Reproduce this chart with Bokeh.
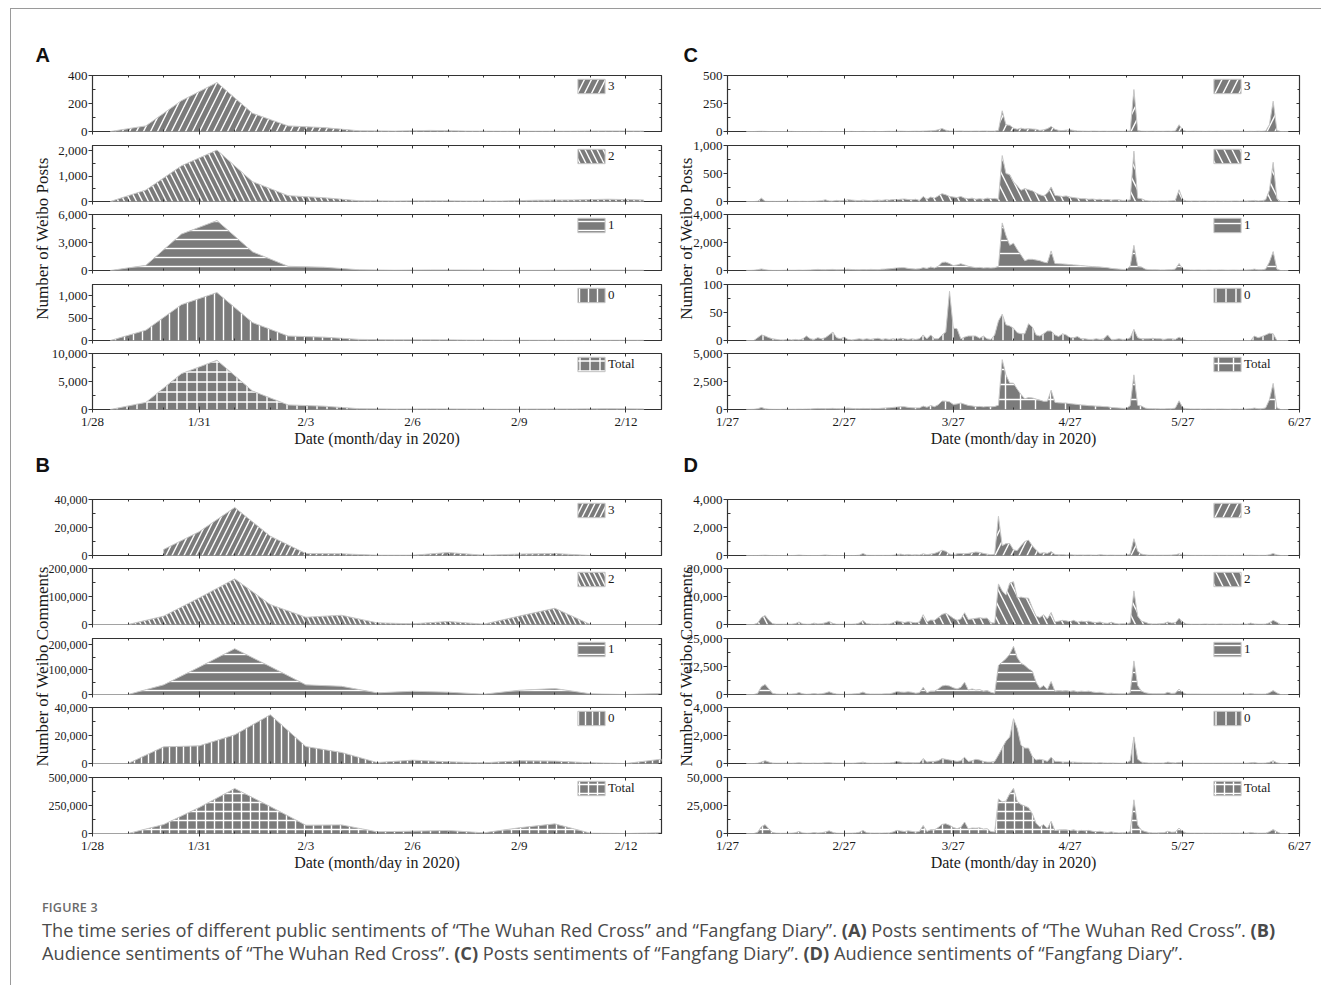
import numpy as np
import pandas as pd
from bokeh.plotting import figure
from bokeh.models import (Range1d, FixedTicker, LinearAxis, DatetimeAxis, Legend, LegendItem,
                          NumeralTickFormatter, Div, Label)
from bokeh.layouts import column, row
from bokeh.embed import file_html
from bokeh.resources import INLINE

# ---------------- data ----------------
SENTIMENTS = ["3", "2", "1", "0", "Total"]
HATCHES = ["/", "\\", "-", "|", "+"]

# Panel A: posts, "The Wuhan Red Cross" (daily, plotted at mid-day)
A_DAYS = pd.date_range("2020-01-28 12:00", periods=16, freq="D")
A_3 = [0, 40, 220, 350, 130, 40, 28, 5, 3, 8, 3, 2, 2, 2, 4, 3]
A_2 = [0, 450, 1400, 2020, 780, 230, 150, 30, 20, 30, 20, 20, 50, 60, 90, 60]
A_1 = [0, 550, 3900, 5350, 2000, 450, 350, 80, 30, 60, 50, 20, 20, 30, 40, 30]
A_0 = [0, 230, 800, 1070, 400, 100, 75, 25, 15, 15, 10, 5, 5, 5, 5, 5]
A_T = [0, 1270, 6400, 8800, 3300, 820, 600, 140, 70, 110, 80, 50, 80, 100, 140, 100]

# Panel B: comments, "The Wuhan Red Cross"
B_DAYS = pd.date_range("2020-01-28", "2020-02-13", freq="D")
nan = float("nan")
B_3 = [nan, nan, 4300, 17000, 34300, 13800, 1400, 1200, 200, 200, 2100, 200, 1000, 1400, 0, nan, nan]
B_2 = [0, 0, 29800, 95000, 163000, 71000, 26000, 33000, 6000, 2400, 10700, 1200, 30000, 58000, 0, 0, 0]
B_1 = [0, 0, 38700, 110000, 184000, 112000, 38700, 33000, 6700, 13000, 9300, 1300, 17000, 24000, 2700, 0, 4000]
B_0 = [0, 0, 11900, 12600, 20500, 34800, 12100, 7900, 700, 2400, 1200, 500, 1900, 1700, 500, 0, 3100]
B_T = [0, 0, 80000, 232000, 402000, 240000, 74000, 77000, 15000, 21000, 27000, 6000, 51000, 86000, 3000, 0, 7000]

# Panels C and D: "Fangfang Diary", daily 2/1 .. 6/24
CD_DAYS = pd.date_range("2020-02-01", periods=145, freq="D")
C_3 = ([0,0,0,1,2,1,0,0,0,0, 0,0,1,0,0,0,0,0,0,0, 1,0,0,0,0,0,0,0,1] +
       [0,0,1,0,0,1,0,0,1,2, 1,2,3,2,1,2,3,2,4,5, 6,8,15,27,12,5,3,4,5,3, 3] +
       [3,4,3,5,4,3,4,10,185,60, 55,30,20,30,22,25,22,20,10,15, 25,45,20,10,8,12,15,10,5,4] +
       [3,2,4,3,2,3,2,2,3,2, 2,3,5,375,10,3,2,2,3,2, 2,2,3,2,5,60,10,2,2,3, 2] +
       [2,1,2,1,2,1,1,2,1,2, 1,2,1,2,1,3,2,5,60,270, 10,0,0,0])
C_2 = ([0,0,0,5,60,5,2,3,2,3, 5,3,2,4,3,5,3,4,8,10, 15,30,10,8,20,12,15,30,25] +
       [20,15,25,20,15,20,25,20,30,25, 35,30,40,45,35,30,40,20,90,40, 80,60,100,140,120,90,80,70,90,60, 50] +
       [60,40,50,40,60,50,55,40,820,500, 480,350,280,200,230,210,190,150,120,100, 150,260,110,100,90,100,80,70,60,50] +
       [50,40,45,35,40,30,35,25,30,30, 20,20,30,900,60,50,20,10,10,8, 10,8,10,12,20,210,30,10,8,10, 8] +
       [8,10,6,8,10,6,8,5,8,10, 6,8,10,12,20,10,15,30,200,700, 50,0,0,0])
C_1 = ([10,10,20,60,110,60,20,10,10,10, 15,20,20,20,30,20,30,40,60,80, 60,50,70,80,50,60,70,90,70] +
       [60,50,70,60,80,70,60,90,100,120, 150,180,200,200,150,120,100,120,200,150, 250,180,300,580,600,500,350,400,480,400, 300] +
       [250,200,220,180,200,180,200,300,3400,2500, 1800,1950,1500,1100,700,800,800,750,700,600, 550,1400,500,480,470,450,420,400,380,350] +
       [330,300,280,260,250,220,200,150,120,100, 80,80,300,1800,300,250,100,60,50,50, 40,40,50,60,100,500,100,50,40,30, 40] +
       [30,30,40,30,30,40,30,20,30,30, 20,30,40,50,100,50,50,100,600,1350, 100,0,0,0])
C_0 = ([0,0,0,5,10,8,5,3,2,1, 1,2,1,2,1,3,8,3,2,5, 3,5,10,15,5,3,6,2,1] +
       [2,3,2,3,2,3,4,2,3,2, 3,2,4,3,2,3,2,3,10,3, 10,3,3,10,15,88,22,21,3,6, 8] +
       [8,8,4,8,3,2,10,35,47,28, 26,22,14,12,12,30,24,10,8,12, 17,17,10,7,12,10,5,5,7,3] +
       [3,2,2,3,2,3,10,2,2,3, 2,2,5,20,5,3,3,3,4,3, 3,2,3,3,2,6,2,0,0,0, 0] +
       [0,0,0,0,0,0,0,0,0,0, 0,0,0,0,8,5,7,10,13,12, 0,0,0,0])
C_T = ([10,10,20,71,182,74,27,16,14,14, 21,25,24,26,34,28,41,47,70,95, 79,85,90,103,75,75,91,122,97] +
       [82,68,98,83,97,94,89,112,134,149, 189,214,247,250,188,155,145,145,304,198, 346,251,418,757,747,683,455,495,578,469, 361] +
       [321,252,277,233,267,235,269,385,4452,3088, 2361,2352,1814,1342,964,1065,1036,930,838,727, 742,1722,640,597,580,572,520,485,452,407] +
       [386,344,331,301,294,256,247,179,155,135, 104,105,340,3095,375,306,125,75,67,63, 55,52,66,77,127,776,142,62,50,43, 50] +
       [40,41,48,39,42,47,39,27,39,42, 27,40,51,64,129,68,74,145,873,2332, 160,0,0,0])

D_3 = ([0,0,0,0,10,20,5,0,0,0, 0,0,0,5,30,10,0,0,0,0, 10,40,10,0,0,0,0,0,0] +
       [0,20,150,20,10,10,10,10,10,10, 20,60,100,40,80,30,50,30,120,60, 100,150,250,380,300,100,50,120,150,120, 150] +
       [200,250,220,150,100,50,100,2800,700,850, 850,400,350,700,1000,1100,700,400,150,200, 150,280,80,50,60,40,50,40,30,40] +
       [30,40,30,20,60,30,20,30,20,20, 20,30,100,1200,300,100,50,20,20,20, 20,20,20,30,50,120,30,20,10,10, 10] +
       [10,10,10,10,10,10,10,10,10,10, 10,10,10,20,10,10,10,10,50,150, 40,0,0,0])
D_2 = ([0,0,0,500,2500,3200,1500,300,100,100, 100,100,100,300,900,200,100,100,500,200, 300,600,1100,400,100,100,100,100,100] +
       [200,500,1400,300,200,100,150,100,200,200, 600,1300,1000,700,1000,800,600,900,3500,900, 1600,1500,2500,3600,4000,3200,2200,1500,2000,4200, 1800] +
       [2000,2200,2400,2200,2300,600,500,14500,12000,10500, 14800,15300,9500,9800,9500,9400,6000,3000,2500,3500, 2000,4300,900,1200,1500,1300,1000,1500,800,1200] +
       [1000,1200,800,700,900,500,400,800,400,200, 300,200,600,12000,3000,1200,800,300,200,200, 300,400,900,500,600,2200,800,200,100,100, 100] +
       [100,200,100,150,100,200,100,100,150,100, 100,200,100,500,200,100,100,150,600,1500, 800,0,0,0])
D_1 = ([0,0,0,500,3500,4500,2500,500,200,100, 100,100,200,300,900,300,100,200,400,200, 300,700,1200,600,200,100,100,100,200] +
       [300,500,1100,300,200,200,200,200,300,300, 700,1300,1100,1000,1200,1000,600,800,3200,800, 1500,1500,2500,3800,4100,3800,3000,2500,3200,5500, 2000] +
       [2500,2000,2200,1500,1800,1000,600,13000,14500,16000, 18000,21500,16500,14000,13000,11500,10500,5500,2800,4000, 2200,5800,1500,1800,1600,1800,1400,1700,1200,1500] +
       [1300,1500,1100,900,1000,700,500,600,400,300, 300,300,800,15000,4000,1500,800,500,300,300, 300,300,1000,500,600,2400,800,200,200,200, 200] +
       [150,150,150,150,150,150,150,150,150,150, 150,200,150,400,200,150,150,200,800,1800, 700,0,0,0])
D_0 = ([0,0,0,20,100,200,100,30,20,20, 20,20,20,30,50,30,20,20,30,20, 30,50,60,30,20,20,20,20,20] +
       [30,50,100,30,20,20,20,20,30,30, 60,150,100,60,80,60,50,60,350,100, 150,150,200,350,300,250,200,150,200,450, 150] +
       [200,300,250,150,100,100,150,600,1100,1600, 1900,3200,2500,1300,1100,1100,500,250,300,250, 150,450,150,150,100,100,100,100,80,80] +
       [60,60,50,40,60,40,30,40,30,20, 20,30,200,1900,300,100,50,30,30,30, 30,30,100,60,40,80,30,20,20,20, 20] +
       [20,20,20,20,20,20,20,20,20,20, 20,20,20,50,80,20,20,30,80,200, 50,0,0,0])
D_T = ([0,0,0,1020,6110,7920,4105,830,320,220, 220,220,320,635,1880,540,220,320,930,420, 640,1390,2370,1030,320,220,220,220,320] +
       [530,1070,2750,650,430,330,380,330,540,540, 1380,2810,2300,1800,2360,1890,1300,1790,7170,1860, 3350,3300,5450,8130,8700,7350,5450,4270,5550,10270, 4100] +
       [4900,4750,5070,4000,4300,1750,1350,30900,28300,28950, 35550,40400,28850,25800,24600,23100,17700,9150,5750,7950, 4500,10830,2630,3200,3260,3240,2550,3340,2110,2820] +
       [2390,2800,1980,1660,2020,1270,950,1470,850,540, 640,560,1700,30100,7600,2900,1700,850,550,550, 650,750,2020,1090,1290,4800,1660,440,330,330, 330] +
       [280,380,280,330,280,380,280,280,330,280, 280,430,280,970,490,280,280,390,1530,3650, 1590,0,0,0])

# axes
AB_TICK_DATES = ["2020-01-28", "2020-01-31", "2020-02-03", "2020-02-06", "2020-02-09", "2020-02-12"]
AB_TICK_LABELS = ["1/28", "1/31", "2/3", "2/6", "2/9", "2/12"]
AB_MINOR = [str(d.date()) for d in pd.date_range("2020-01-28", "2020-02-13", freq="D")]
CD_TICK_DATES = ["2020-01-27", "2020-02-27", "2020-03-27", "2020-04-27", "2020-05-27", "2020-06-27"]
CD_TICK_LABELS = ["1/27", "2/27", "3/27", "4/27", "5/27", "6/27"]
CD_MINOR = ["2020-02-12", "2020-03-12", "2020-04-12", "2020-05-12", "2020-06-12"]

A_YMAX = [400, 2200, 6000, 1250, 10000]
A_YTICKS = [[0, 200, 400], [0, 1000, 2000], [0, 3000, 6000], [0, 500, 1000], [0, 5000, 10000]]
B_YMAX = [40000, 200000, 225000, 40000, 500000]
B_YTICKS = [[0, 20000, 40000], [0, 100000, 200000], [0, 100000, 200000], [0, 20000, 40000], [0, 250000, 500000]]
C_YMAX = [500, 1000, 4000, 100, 5000]
C_YTICKS = [[0, 250, 500], [0, 500, 1000], [0, 2000, 4000], [0, 50, 100], [0, 2500, 5000]]
D_YMAX = [4000, 20000, 25000, 4000, 50000]
D_YTICKS = [[0, 2000, 4000], [0, 10000, 20000], [0, 12500, 25000], [0, 2000, 4000], [0, 25000, 50000]]

PANEL_LETTERS = ["A", "B", "C", "D"]
POSTS_LABEL = "Number of Weibo Posts"
COMMENTS_LABEL = "Number of Weibo Comments"
X_LABEL = "Date (month/day in 2020)"

# ---------------- styling ----------------
FILL = "#7b7b7b"
EDGE = "#c8c8c8"
AXC = "#333333"
SERIF = "Liberation Serif"
TXT = "#1a1a1a"


def ms(s):
    return pd.Timestamp(s).value / 1e6


def hidden_axis(cls, ticker):
    return cls(ticker=ticker, axis_line_color=None, major_tick_in=3, major_tick_out=0,
               minor_tick_in=2, minor_tick_out=0, major_label_text_font_size="0px",
               major_label_text_color=None, major_label_standoff=0,
               major_tick_line_color=AXC, minor_tick_line_color=AXC)


def make_panel(days, series, ymaxes, yticks, tick_dates, tick_labels, minor_dates,
               xstart, xend, bl, br, fw, tops, bottoms, scales, legend_x, ytick_size):
    figs = []
    xs_all = np.array([pd.Timestamp(d).value / 1e6 for d in days])
    for i in range(5):
        vals = np.array(series[i], dtype=float)
        p = figure(x_axis_type="datetime",
                   x_range=Range1d(ms(xstart), ms(xend)), y_range=Range1d(0, ymaxes[i]),
                   frame_width=fw, frame_height=56,
                   min_border_left=bl, min_border_right=br,
                   min_border_top=tops[i], min_border_bottom=bottoms[i],
                   output_backend="svg", toolbar_location=None, title=None,
                   outline_line_color=AXC, outline_line_width=1.2,
                   background_fill_color="white", border_fill_alpha=0)
        p.xgrid.visible = False
        p.ygrid.visible = False

        mask = ~np.isnan(vals)
        xv = xs_all[mask]
        yv = vals[mask]
        px = np.concatenate([[xv[0]], xv, [xv[-1]]])
        py = np.concatenate([[0.0], yv, [0.0]])
        r = p.patch(px, py, fill_color=FILL, line_color=EDGE, line_width=1,
                    hatch_pattern=HATCHES[i], hatch_color="white", hatch_weight=1.4,
                    hatch_scale=scales[i])

        # x axes
        xt = FixedTicker(ticks=[ms(d) for d in tick_dates], minor_ticks=[ms(d) for d in minor_dates])
        ax = p.xaxis[0]
        ax.ticker = xt
        ax.axis_line_color = None
        ax.major_tick_in = 3
        ax.major_tick_out = 3
        ax.minor_tick_in = 2
        ax.minor_tick_out = 0
        ax.major_tick_line_color = AXC
        ax.minor_tick_line_color = AXC
        if i == 4:
            ax.major_label_overrides = {ms(d): l for d, l in zip(tick_dates, tick_labels)}
            ax.major_label_text_font = SERIF
            ax.major_label_text_font_size = "13px"
            ax.major_label_text_color = TXT
            ax.major_label_standoff = 1
            ax.axis_label = X_LABEL
            ax.axis_label_text_font = SERIF
            ax.axis_label_text_font_size = "16px"
            ax.axis_label_text_font_style = "normal"
            ax.axis_label_text_color = TXT
            ax.axis_label_standoff = -2
        else:
            ax.major_label_text_font_size = "0px"
            ax.major_label_text_color = None
            ax.major_label_standoff = 0

        p.add_layout(hidden_axis(DatetimeAxis, xt), "above")

        # y axes
        step = yticks[i][1] - yticks[i][0]
        yt = FixedTicker(ticks=yticks[i], minor_ticks=[t + step / 2 for t in yticks[i][:-1]])
        ay = p.yaxis[0]
        ay.ticker = yt
        ay.formatter = NumeralTickFormatter(format="0,0")
        ay.axis_line_color = None
        ay.major_tick_out = 4
        ay.major_tick_in = 0
        ay.minor_tick_in = 3
        ay.minor_tick_out = 0
        ay.major_tick_line_color = AXC
        ay.minor_tick_line_color = AXC
        ay.major_label_text_font = SERIF
        ay.major_label_text_font_size = ytick_size
        ay.major_label_text_color = TXT
        ay.major_label_standoff = 1
        p.add_layout(hidden_axis(LinearAxis, yt), "right")

        leg = Legend(items=[LegendItem(label=SENTIMENTS[i], renderers=[r])],
                     location=(legend_x, 36), padding=0, margin=0, spacing=0,
                     glyph_width=34, glyph_height=18, label_height=18, label_width=8,
                     label_standoff=0, label_text_font=SERIF, label_text_font_size="13px",
                     label_text_color=TXT, background_fill_alpha=0, border_line_alpha=0)
        p.add_layout(leg)
        figs.append(p)
    return figs


def label_fig(text, w, h, cx, cy, letter, lx, ly):
    f = figure(width=w, height=h, x_range=Range1d(0, w), y_range=Range1d(0, h),
               min_border=0, output_backend="svg", toolbar_location=None, title=None,
               x_axis_location=None, y_axis_location=None, outline_line_color=None,
               background_fill_alpha=0, border_fill_alpha=0)
    f.xgrid.visible = False
    f.ygrid.visible = False
    f.add_layout(Label(x=cx, y=cy, text=text, angle=np.pi / 2, text_align="center",
                       text_baseline="middle", text_font=SERIF, text_font_size="17px",
                       text_color=TXT))
    f.add_layout(Label(x=lx, y=ly, text=letter, text_align="left", text_baseline="alphabetic",
                       text_font="Liberation Sans", text_font_size="20px",
                       text_font_style="bold", text_color="#111111"))
    return f


TOPS1 = [66, 7, 7, 7, 7]
BOTS1 = [7, 6, 7, 6, 40]
TOPS2 = [50, 7, 7, 7, 7]
BOTS2 = [6, 7, 6, 7, 40]

figsA = make_panel(A_DAYS, [A_3, A_2, A_1, A_0, A_T], A_YMAX, A_YTICKS,
                   AB_TICK_DATES, AB_TICK_LABELS, AB_MINOR, "2020-01-28", "2020-02-13",
                   81, 6, 569, TOPS1, BOTS1, [14, 12, 9, 9, 10], 482, "13px")
figsB = make_panel(B_DAYS, [B_3, B_2, B_1, B_0, B_T], B_YMAX, B_YTICKS,
                   AB_TICK_DATES, AB_TICK_LABELS, AB_MINOR, "2020-01-28", "2020-02-13",
                   81, 6, 569, TOPS2, BOTS2, [12, 10, 9, 7, 9], 482, "12px")
figsC = make_panel(CD_DAYS, [C_3, C_2, C_1, C_0, C_T], C_YMAX, C_YTICKS,
                   CD_TICK_DATES, CD_TICK_LABELS, CD_MINOR, "2020-01-27", "2020-06-27",
                   60, 12, 572, TOPS1, BOTS1, [16, 16, 13, 10, 15], 483, "13px")
figsD = make_panel(CD_DAYS, [D_3, D_2, D_1, D_0, D_T], D_YMAX, D_YTICKS,
                   CD_TICK_DATES, CD_TICK_LABELS, CD_MINOR, "2020-01-27", "2020-06-27",
                   60, 12, 572, TOPS2, BOTS2, [16, 16, 9, 10, 9], 483, "13px")

ROW1_H = 440
ROW2_H = 424
labA = label_fig(POSTS_LABEL, 60, ROW1_H, 31, 211, PANEL_LETTERS[0], 24, 395)
labC = label_fig(POSTS_LABEL, 40, ROW1_H, 19, 211, PANEL_LETTERS[2], 16, 395)
labB = label_fig(COMMENTS_LABEL, 60, ROW2_H, 31, 207, PANEL_LETTERS[1], 24, 409)
labD = label_fig(COMMENTS_LABEL, 40, ROW2_H, 19, 207, PANEL_LETTERS[3], 16, 409)

colA = column(*figsA, margin=(0, 0, 0, -60))
colC = column(*figsC, margin=(0, 0, 0, -40))
colB = column(*figsB, margin=(0, 0, 0, -60))
colD = column(*figsD, margin=(0, 0, 0, -40))

CAPTION_HEAD = "FIGURE 3"
CAPTION_HTML = (
    "<div style=\"font-family:'Open Sans';font-size:12.5px;font-weight:600;color:#6a6a6a;"
    "letter-spacing:0.2px;line-height:16px;margin:0 0 3px 0\">" + CAPTION_HEAD + "</div>"
    "<div style=\"font-family:'Open Sans';font-size:18.2px;color:#4a4a4a;line-height:23px;white-space:nowrap\">"
    "The time series of different public sentiments of \u201cThe Wuhan Red Cross\u201d and \u201cFangfang Diary\u201d. "
    "<b>(A)</b> Posts sentiments of \u201cThe Wuhan Red Cross\u201d. <b>(B)</b><br>"
    "Audience sentiments of \u201cThe Wuhan Red Cross\u201d. <b>(C)</b> Posts sentiments of \u201cFangfang Diary\u201d. "
    "<b>(D)</b> Audience sentiments of \u201cFangfang Diary\u201d.</div>"
)
caption = Div(text=CAPTION_HTML, width=1300, height=112,
              styles={"padding-left": "26px", "padding-top": "22px", "box-sizing": "border-box"})

page = column(row(labA, colA, labC, colC), row(labB, colB, labD, colD), caption,
              margin=(8, 0, 0, 10),
              styles={"border-left": "1px solid #9a9a9a", "border-top": "1px solid #9a9a9a",
                      "background-color": "white"})

open("out.html", "w").write(file_html(page, INLINE))
